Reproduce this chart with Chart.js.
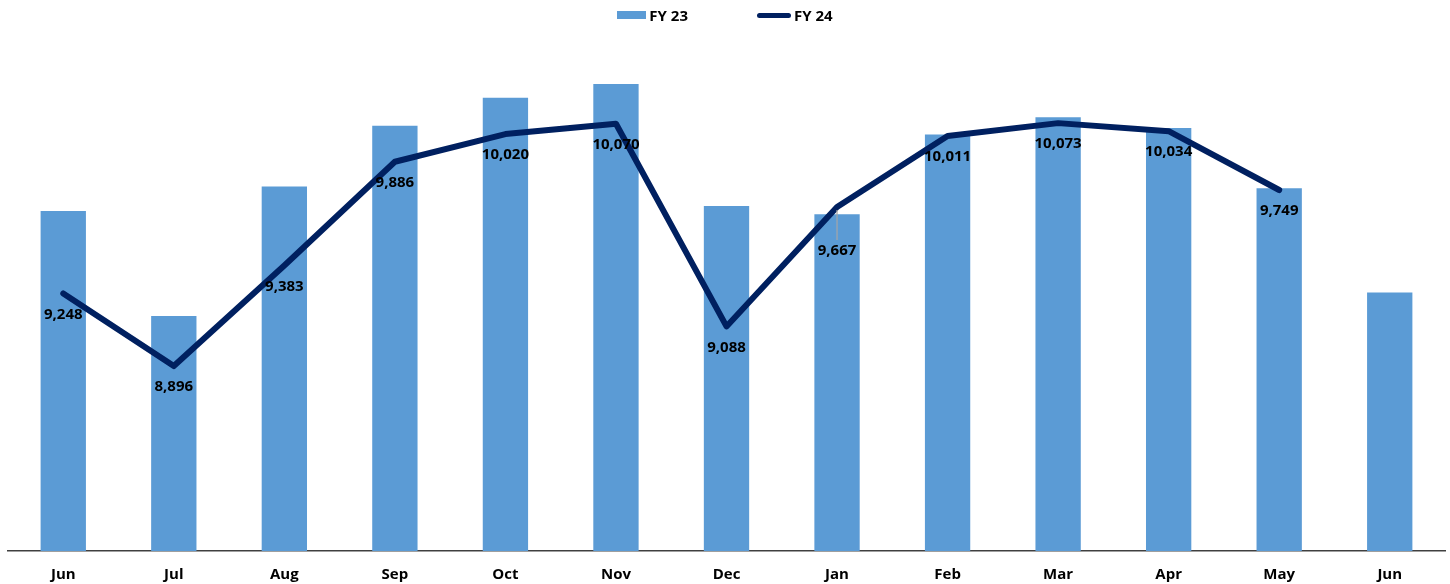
<!DOCTYPE html>
<html>
<head>
<meta charset="utf-8">
<script src="https://cdn.jsdelivr.net/npm/chart.js@4.4.1/dist/chart.umd.min.js"></script>
<style>
    html, body {
        margin: 0;
        padding: 0;
        background: #fff;
    }
    body {
        font-family: "Open Sans", sans-serif;
    }
    .wrap {
        position: relative;
        width: 1450px;
        height: 584px;
    }
    #legend {
        position: absolute;
        top: 0;
        left: 0;
        right: 0;
        height: 30px;
        display: flex;
        justify-content: center;
        align-items: center;
        gap: 69px;
        font-size: 15px;
        font-weight: 700;
        color: #000;
    }
    .legend-item {
        display: flex;
        align-items: center;
    }
    .legend-item span.swatch {
        display: inline-block;
        margin-right: 3px;
    }
</style>
</head>
<body>
<div class="wrap">
    <div id="legend"></div>
    <canvas id="salesChart"></canvas>
</div>
<script>
// 月 (x軸ラベル)
let months = ['Jun', 'Jul', 'Aug', 'Sep', 'Oct', 'Nov', 'Dec', 'Jan', 'Feb', 'Mar', 'Apr', 'May', 'Jun']

// FY 23 (棒) - 画像から読み取った推定値
let fy23 = [9647, 9138, 9766, 10060, 10196, 10262, 9671, 9631, 10018, 10102, 10049, 9758, 9253]

// FY 24 (折れ線) - ラベル値
let fy24 = [9248, 8896, 9383, 9886, 10020, 10070, 9088, 9667, 10011, 10073, 10034, 9749]

// y軸の範囲 (非表示)
let yRange = [8000, 10500]

let barColor = '#5B9BD5'
let lineColor = '#002060'

// 折れ線の値ラベル (点の下に描く)
let valueLabels = {
    id: 'valueLabels',
    afterDatasetsDraw(chart) {
        let ctx = chart.ctx
        let meta = chart.getDatasetMeta(1)
        ctx.save()
        ctx.font = 'bold 15px "Open Sans"'
        ctx.fillStyle = '#000'
        ctx.textAlign = 'center'
        ctx.textBaseline = 'middle'
        meta.data.forEach(function (pt, i) {
            let shift = 21
            // Jan のラベルは引き出し線付きで少し下
            if (i === 7) {
                shift = 44
                ctx.strokeStyle = '#a6a6a6'
                ctx.lineWidth = 1.2
                ctx.beginPath()
                ctx.moveTo(pt.x, pt.y + 3)
                ctx.lineTo(pt.x, pt.y + shift - 11)
                ctx.stroke()
            }
            ctx.fillText(fy24[i].toLocaleString('en-US'), pt.x, pt.y + shift)
        })
        ctx.restore()
    }
}

let ctx = document.getElementById('salesChart').getContext('2d')
let salesChart = new Chart(ctx, {
    type: 'bar',
    data: {
        labels: months,
        datasets: [{
            type: 'bar',
            label: 'FY 23',
            data: fy23,
            backgroundColor: barColor,
            borderWidth: 0,
            barPercentage: 0.41,
            categoryPercentage: 1,
            order: 2
        },
        {
            type: 'line',
            label: 'FY 24',
            data: fy24,
            borderColor: lineColor,
            backgroundColor: lineColor,
            borderWidth: 6,
            borderCapStyle: 'round',
            borderJoinStyle: 'round',
            tension: 0,
            pointRadius: 0,
            pointHoverRadius: 0,
            fill: false,
            order: 1
        }]
    },
    options: {
        responsive: true,
        maintainAspectRatio: false,
        animation: false,
        layout: {
            padding: { top: 35, left: 8, right: 5, bottom: -15 }
        },
        plugins: {
            legend: { display: false },
            tooltip: { enabled: false }
        },
        scales: {
            x: {
                grid: { display: false, drawTicks: false },
                border: { display: true, color: '#404040', width: 1.5 },
                ticks: {
                    color: '#000',
                    padding: 15,
                    font: { family: '"Open Sans"', size: 15, weight: 'bold' }
                }
            },
            y: {
                display: false,
                min: yRange[0],
                max: yRange[1]
            }
        }
    },
    plugins: [valueLabels]
})

// 凡例 (HTML)
let legendBox = document.getElementById('legend')
let items = salesChart.options.plugins.legend.labels.generateLabels(salesChart)
items.sort(function (a, b) { return a.datasetIndex - b.datasetIndex })
items.forEach(function (item) {
    let ds = salesChart.data.datasets[item.datasetIndex]
    let el = document.createElement('div')
    el.className = 'legend-item'
    let sw = document.createElement('span')
    sw.className = 'swatch'
    if (ds.type === 'line') {
        sw.style.width = '34px'
        sw.style.height = '5px'
        sw.style.borderRadius = '3px'
        sw.style.background = item.strokeStyle
    } else {
        sw.style.width = '29px'
        sw.style.height = '8px'
        sw.style.background = item.fillStyle
    }
    let txt = document.createElement('span')
    txt.textContent = item.text
    el.appendChild(sw)
    el.appendChild(txt)
    legendBox.appendChild(el)
})
</script>
</body>
</html>
